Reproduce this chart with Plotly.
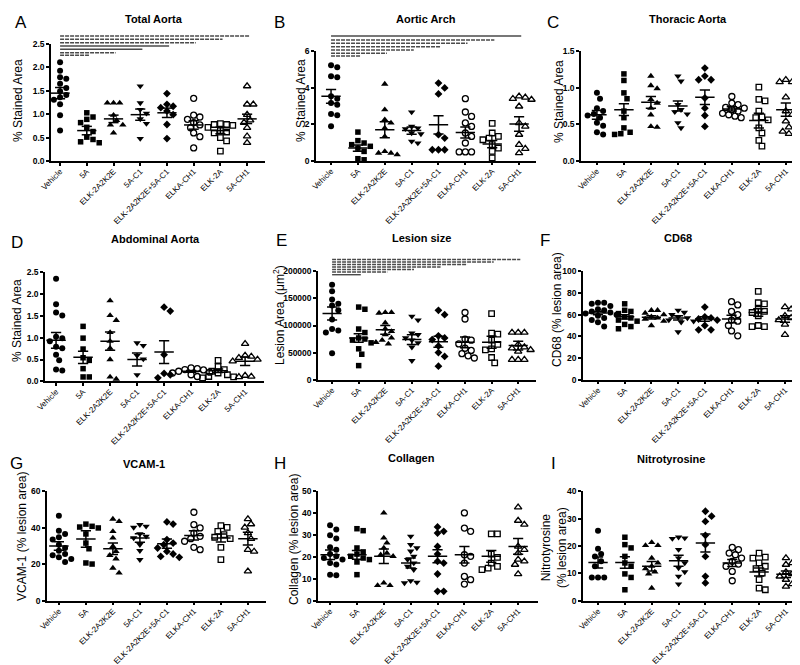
import numpy as np
import plotly.graph_objects as go

W, H = 800, 665
FONT = "Liberation Sans, Arial, sans-serif"

groups = ["Vehicle", "5A", "ELK-2A2K2E", "5A-C1", "ELK-2A2K2E+5A-C1", "ELKA-CH1", "ELK-2A", "5A-CH1"]
symbols = ["circle", "square", "triangle-up", "triangle-down", "diamond",
           "circle-open", "square-open", "triangle-up-open"]
sizes = [6, 5.5, 6.5, 6.5, 6, 6, 5.5, 6.5]

# ---------------- data ----------------
total_aorta = [
    [2.11, 1.93, 1.79, 1.76, 1.65, 1.56, 1.49, 1.41, 1.36, 1.31, 1.21, 0.98, 0.65],
    [1.03, 0.94, 0.89, 0.82, 0.72, 0.63, 0.51, 0.46, 0.41, 0.39],
    [1.24, 1.24, 1.24, 0.98, 0.87, 0.77, 0.77, 0.60],
    [1.60, 1.24, 1.10, 1.02, 0.90, 0.80, 0.48],
    [1.44, 1.21, 1.17, 1.14, 1.07, 0.99, 0.78, 0.48],
    [1.34, 0.98, 0.94, 0.89, 0.82, 0.77, 0.71, 0.60, 0.52, 0.28],
    [0.80, 0.78, 0.78, 0.76, 0.72, 0.65, 0.62, 0.60, 0.50, 0.43, 0.21],
    [1.60, 1.21, 1.21, 0.99, 0.87, 0.82, 0.71, 0.53, 0.39],
]
total_aorta_mean = [1.45, 0.65, 0.90, 0.99, 1.03, 0.77, 0.65, 0.90]
total_aorta_sem = [0.12, 0.09, 0.08, 0.12, 0.10, 0.09, 0.07, 0.10]

aortic_arch = [
    [5.23, 5.12, 4.63, 4.57, 3.53, 3.40, 3.16, 3.07, 2.56, 2.49, 1.89],
    [1.57, 1.10, 0.97, 0.88, 0.79, 0.69, 0.51, 0.11, 0.05],
    [4.20, 2.80, 2.25, 2.07, 1.79, 1.33, 0.51, 0.42, 0.42, 0.33],
    [2.67, 1.88, 1.79, 1.75, 1.52, 1.47, 1.06, 0.97],
    [4.26, 3.99, 3.66, 1.43, 1.24, 0.60, 0.60, 0.60],
    [3.40, 2.67, 2.43, 2.07, 1.88, 1.52, 1.33, 0.97, 0.48, 0.48, 0.48],
    [2.05, 1.52, 1.33, 1.24, 1.15, 0.88, 0.69, 0.51, 0.15],
    [3.53, 3.47, 3.40, 3.35, 2.98, 2.07, 1.88, 1.43, 0.88, 0.66, 0.42],
]
aortic_arch_mean = [3.53, 0.69, 1.70, 1.65, 1.97, 1.55, 0.91, 2.01]
aortic_arch_sem = [0.38, 0.17, 0.44, 0.20, 0.50, 0.30, 0.20, 0.40]

thoracic_aorta = [
    [0.93, 0.85, 0.72, 0.68, 0.64, 0.62, 0.59, 0.52, 0.48, 0.39, 0.36],
    [1.19, 1.10, 0.93, 0.85, 0.68, 0.59, 0.45, 0.39, 0.37, 0.36],
    [1.16, 1.03, 0.99, 0.84, 0.79, 0.72, 0.63, 0.47, 0.46],
    [1.16, 1.09, 0.77, 0.70, 0.67, 0.64, 0.52, 0.45],
    [1.27, 1.16, 1.11, 1.11, 0.86, 0.72, 0.62, 0.47],
    [0.88, 0.79, 0.77, 0.73, 0.72, 0.70, 0.68, 0.65, 0.63, 0.61, 0.59],
    [1.01, 0.84, 0.82, 0.68, 0.60, 0.59, 0.56, 0.45, 0.38, 0.28, 0.20],
    [1.11, 1.08, 1.08, 0.87, 0.68, 0.63, 0.54, 0.46, 0.40, 0.37],
]
thoracic_aorta_mean = [0.63, 0.70, 0.80, 0.75, 0.87, 0.71, 0.55, 0.70]
thoracic_aorta_sem = [0.06, 0.08, 0.08, 0.07, 0.10, 0.03, 0.10, 0.09]

abdominal_aorta = [
    [2.35, 1.77, 1.58, 1.51, 1.02, 0.99, 0.92, 0.79, 0.76, 0.61, 0.48, 0.27, 0.25],
    [1.26, 0.99, 0.74, 0.54, 0.48, 0.29, 0.10, 0.10],
    [1.85, 1.51, 1.40, 1.12, 0.92, 0.76, 0.50, 0.10, 0.05],
    [0.88, 0.82, 0.59, 0.51, 0.15],
    [1.70, 1.61, 0.61, 0.18, 0.15, 0.08],
    [0.31, 0.29, 0.27, 0.26, 0.23, 0.21, 0.19, 0.15, 0.11],
    [0.48, 0.34, 0.27, 0.23, 0.19, 0.15, 0.11, 0.10, 0.08],
    [0.86, 0.59, 0.57, 0.54, 0.50, 0.46, 0.13, 0.11, 0.10],
]
abdominal_aorta_mean = [0.94, 0.55, 0.92, 0.50, 0.67, 0.23, 0.24, 0.46]
abdominal_aorta_sem = [0.18, 0.14, 0.21, 0.15, 0.26, 0.02, 0.04, 0.10]

lesion_size = [
    [175000, 163000, 148000, 140000, 137000, 128000, 111000, 93500, 91000, 87000, 49000],
    [134000, 130000, 93500, 87000, 77000, 75000, 73000, 68000, 57000, 47000, 26000],
    [124000, 124000, 123000, 105000, 94000, 89000, 83000, 77000, 73000, 69000, 66000],
    [117000, 110000, 86000, 83000, 77000, 73000, 68000, 60000, 35000],
    [128000, 120000, 81000, 77000, 74000, 62000, 50000, 43000, 25000],
    [124000, 112000, 75000, 73000, 66000, 58000, 54000, 48000, 44000, 40000],
    [122000, 86000, 84000, 73000, 65000, 57000, 55000, 41000, 31000],
    [87000, 87000, 87000, 65000, 60000, 58000, 55000, 52000, 37000, 37000, 37000],
]
lesion_size_mean = [122000, 77000, 92000, 74000, 70000, 69000, 69000, 63000]
lesion_size_sem = [12000, 8000, 8000, 9000, 10000, 10000, 11000, 8000]

cd68 = [
    [71, 71, 70, 68, 65, 64, 63, 62, 61, 60, 59, 57, 55, 53, 49],
    [70, 64, 63, 61, 58, 57, 55, 54, 51, 49, 47],
    [64, 64, 61.5, 60, 58, 57, 56, 54, 50],
    [64, 62, 60, 58, 57, 55, 54, 53, 44],
    [67, 58, 57, 56, 55, 50, 46, 46],
    [72, 69, 63, 60, 55, 54, 50, 45, 40.5],
    [81.5, 71, 70, 65, 63, 62, 59, 50, 49, 49],
    [67, 65, 59, 57, 55, 54, 51, 41.5],
]
cd68_mean = [61.5, 58, 57.5, 57, 56, 56, 62, 56]
cd68_sem = [1.5, 2, 1.5, 2, 2, 3.5, 3.5, 3]

vcam1 = [
    [46.6, 38.4, 36.6, 34.8, 33.5, 30.7, 28.9, 27.4, 25.6, 24.9, 23.8, 22.9, 21.2],
    [42, 40.8, 40.4, 39.9, 36.6, 31.6, 28.5, 20.7, 20.1],
    [44.8, 43.5, 38, 34.4, 29.8, 27, 24.9, 23, 17.9, 15.2],
    [41.7, 40.8, 40.2, 36.6, 35.3, 34.4, 30.7, 27.4, 22.5],
    [43.2, 42, 33.5, 31.6, 30.7, 28.9, 27, 25.6, 24.3, 23.8],
    [48.5, 41.7, 39.9, 37.1, 35.3, 34, 32.6, 29.3, 28],
    [41.2, 40.2, 38, 36.2, 34.8, 34, 29.3, 22.5],
    [44.8, 42, 40.2, 37.1, 34, 28, 27, 16.1],
]
vcam1_mean = [30, 33.8, 28.5, 34.4, 31.3, 35.8, 34.4, 34]
vcam1_sem = [2.3, 4.5, 3.2, 2.3, 2.5, 2.5, 2.2, 3.5]

collagen = [
    [34.5, 32.5, 29.9, 28.4, 24.4, 23.3, 21.3, 20.3, 19.5, 18.8, 17.2, 16.5, 11.9, 11.6],
    [32.9, 32, 24.1, 22.3, 21.3, 20.3, 19.5, 18.8, 17.7, 11.9],
    [40.1, 28.7, 26.4, 24.1, 21.8, 21, 20.3, 8.1, 7, 7],
    [29.4, 25.6, 24.1, 22.6, 20.3, 18.8, 17.2, 15.7, 14.2, 9.1, 8.4, 8.1],
    [33.7, 31.7, 30.9, 24.8, 21.3, 18, 17.2, 12.2, 4.3, 4.3],
    [40.1, 33.2, 31.7, 21, 20.3, 17.2, 11.1, 9.6, 7.6],
    [30.5, 30.5, 21.3, 19.8, 17.2, 15.7, 14.9, 14.2],
    [42.7, 36.6, 34.8, 24.8, 23.3, 21.8, 18.8, 18, 16.5, 12.2],
]
collagen_mean = [21, 21, 20.3, 17.2, 20.3, 21, 20.3, 24.8]
collagen_sem = [2.2, 2, 3.3, 2.3, 3, 3.8, 2.7, 3.6]

nitrotyrosine = [
    [25.6, 19, 17.1, 16.2, 14.4, 12.6, 8.5, 8.5, 8.5],
    [23.2, 20.5, 19.3, 16.2, 13.8, 12.6, 9.8, 8.5, 4],
    [21.3, 20.2, 20.2, 15.6, 13.8, 12.6, 11.7, 10.5, 9.8, 4.6],
    [23.2, 22.9, 22.7, 18.7, 15.6, 13.8, 12, 10.5, 8.9, 6.1],
    [32.7, 30.9, 29, 23.9, 20.5, 16.2, 8.9, 6.5],
    [19.5, 18.7, 17.4, 16.8, 15.6, 14.4, 13.4, 12.6, 10.7, 7.3],
    [17.4, 15.9, 15.6, 13.8, 12.6, 11.7, 10.1, 7.7, 4.6, 4],
    [15.6, 13.8, 13.2, 10.5, 9.8, 8.9, 7.7, 6.1, 5.2],
]
nitrotyrosine_mean = [14, 14, 12.6, 14.6, 21.1, 13.8, 10.5, 9.7]
nitrotyrosine_sem = [2, 2.1, 1.7, 2, 3.3, 1.3, 1.5, 1.2]

# significance comparisons: Vehicle vs group k (k = 1..7)
sig_targets = [1, 2, 3, 4, 5, 6, 7]

# ---------------- layout configuration (pixels) ----------------
DASH = "4px,1px"
panels = [
    dict(letter="A", title="Total Aorta", ytitle="% Stained Area",
         vals=total_aorta, mean=total_aorta_mean, sem=total_aorta_sem,
         ymax=2.5, dtick=0.5, fmt=".1f", box=(43, 257, 36, 153), xr=(-0.34, 7.67),
         letter_xy=(13, 15), title_xy=(146, 11), ytitle_xy=(10, 93),
         sig_py=[47.3, 44.7, 41.3, 38.0, 34.7, 31.3, 28.0],
         sig_dash=[DASH, DASH, "solid", "solid", DASH, DASH, DASH]),
    dict(letter="B", title="Aortic Arch", ytitle="% Stained Area",
         vals=aortic_arch, mean=aortic_arch_mean, sem=aortic_arch_sem,
         ymax=6, dtick=2, fmt="d", box=(308, 528, 43.3, 152.7), xr=(-0.56, 7.63),
         letter_xy=(271, 15), title_xy=(418, 11), ytitle_xy=(293, 93),
         sig_py=[48.0, 45.3, 42.0, 38.7, 35.3, 32.0, 28.0],
         sig_dash=[DASH, DASH, DASH, DASH, DASH, DASH, "solid"]),
    dict(letter="C", title="Thoracic Aorta", ytitle="% Stained Area",
         vals=thoracic_aorta, mean=thoracic_aorta_mean, sem=thoracic_aorta_sem,
         ymax=1.5, dtick=0.5, fmt=".1f", box=(573, 797, 43.3, 152.7), xr=(-0.59, 7.71),
         letter_xy=(545, 15), title_xy=(680, 11), ytitle_xy=(551, 94)),
    dict(letter="D", title="Abdominal Aorta", ytitle="% Stained Area",
         vals=abdominal_aorta, mean=abdominal_aorta_mean, sem=abdominal_aorta_sem,
         ymax=2.5, dtick=0.5, fmt=".1f", box=(37, 256, 264.3, 373.3), xr=(-0.41, 7.70),
         letter_xy=(9, 235), title_xy=(147, 231), ytitle_xy=(9, 313)),
    dict(letter="E", title="Lesion size", ytitle="Lesion Area  (μm<sup>2</sup>)",
         vals=lesion_size, mean=lesion_size_mean, sem=lesion_size_sem,
         ymax=200000, dtick=50000, fmt="d", box=(310, 528, 263.3, 371.7), xr=(-0.53, 7.67),
         letter_xy=(273, 233), title_xy=(413, 230), ytitle_xy=(271, 307),
         sig_py=[266.7, 264.0, 261.5, 259.0, 256.5, 254.0, 251.5],
         sig_dash=["solid", DASH, DASH, DASH, DASH, DASH, DASH]),
    dict(letter="F", title="CD68", ytitle="CD68 (% lesion area)",
         vals=cd68, mean=cd68_mean, sem=cd68_sem,
         ymax=100, dtick=20, fmt="d", box=(575, 793, 263.3, 371.7), xr=(-0.56, 7.60),
         letter_xy=(537, 233), title_xy=(670, 230), ytitle_xy=(549, 302)),
    dict(letter="G", title="VCAM-1", ytitle="VCAM-1 (% lesion area)",
         vals=vcam1, mean=vcam1_mean, sem=vcam1_sem,
         ymax=60, dtick=20, fmt="d", box=(39, 258, 483.3, 592.7), xr=(-0.44, 7.67),
         letter_xy=(8, 455), title_xy=(136, 456), ytitle_xy=(14, 529)),
    dict(letter="H", title="Collagen", ytitle="Collagen (% lesion area)",
         vals=collagen, mean=collagen_mean, sem=collagen_sem,
         ymax=50, dtick=10, fmt="d", box=(310, 530, 483.3, 592.7), xr=(-0.45, 7.74),
         letter_xy=(272, 455), title_xy=(403, 450), ytitle_xy=(286, 532)),
    dict(letter="I", title="Nitrotyrosine", ytitle="Nitrotyrosine<br>(% lesion area)",
         vals=nitrotyrosine, mean=nitrotyrosine_mean, sem=nitrotyrosine_sem,
         ymax=40, dtick=10, fmt="d", box=(575, 797, 483.3, 592.7), xr=(-0.56, 7.71),
         letter_xy=(545, 455), title_xy=(663, 451), ytitle_xy=(546, 540)),
]


def swarm_offsets(values, px_per_y, px_per_x, diam=6.2):
    """Deterministic beeswarm: place each point nearest the centre without overlap."""
    order = np.argsort(-np.asarray(values, dtype=float), kind="stable")
    placed = []
    offs = np.zeros(len(values))
    steps = [0]
    for k in range(1, 12):
        steps += [k * 0.5, -k * 0.5]
    for idx in order:
        ypx = values[idx] * px_per_y
        for s in steps:
            xpx = s * diam
            if all((xpx - px) ** 2 + (ypx - py) ** 2 >= (diam * 0.95) ** 2 for px, py in placed):
                break
        placed.append((xpx, ypx))
        offs[idx] = xpx / px_per_x
    return offs


fig = go.Figure()
annotations = []
shapes = []
layout_axes = {}

for p_i, p in enumerate(panels):
    n = "" if p_i == 0 else str(p_i + 1)
    xa, ya = "x" + n, "y" + n
    l, r, t, b = p["box"]
    r0, r1 = p["xr"]
    px_per_x = (r - l) / (r1 - r0)
    px_per_y = (b - t) / p["ymax"]

    for g in range(8):
        vals = p["vals"][g]
        offs = swarm_offsets(vals, px_per_y, px_per_x)
        open_m = symbols[g].endswith("open")
        fig.add_trace(go.Scatter(
            x=g + offs, y=vals, mode="markers", xaxis=xa, yaxis=ya,
            showlegend=False, hoverinfo="skip", cliponaxis=False,
            marker=dict(symbol=symbols[g], size=sizes[g], color="black",
                        line=dict(color="black", width=1.3 if open_m else 0))))

    # mean +/- SEM
    lx, ly = [], []
    for g in range(8):
        m, s = p["mean"][g], p["sem"][g]
        lx += [g - 0.36, g + 0.36, None, g, g, None, g - 0.19, g + 0.19, None, g - 0.19, g + 0.19, None]
        ly += [m, m, None, m - s, m + s, None, m + s, m + s, None, m - s, m - s, None]
    fig.add_trace(go.Scatter(x=lx, y=ly, mode="lines", xaxis=xa, yaxis=ya,
                             showlegend=False, hoverinfo="skip",
                             line=dict(color="black", width=1.5)))

    axis_common = dict(showline=True, linecolor="black", linewidth=1.5, ticks="outside",
                       ticklen=3, tickwidth=1.5, tickcolor="black", showgrid=False,
                       zeroline=False, automargin=False)
    layout_axes["xaxis" + n] = dict(axis_common, domain=[l / W, r / W], range=[r0, r1],
                                    tickmode="array", tickvals=list(range(8)), ticktext=groups,
                                    tickangle=-45, anchor=ya, fixedrange=True, ticklabelstandoff=-2,
                                    tickfont=dict(family=FONT, size=8, color="black"))
    layout_axes["yaxis" + n] = dict(axis_common, domain=[1 - b / H, 1 - t / H],
                                    range=[0, p["ymax"]], dtick=p["dtick"], tick0=0,
                                    tickformat=p["fmt"], anchor=xa, fixedrange=True,
                                    tickfont=dict(family=FONT, size=8.5, color="black", weight="bold"))

    # text
    annotations.append(dict(text=p["letter"], x=p["letter_xy"][0] / W, y=1 - p["letter_xy"][1] / H,
                            xref="paper", yref="paper", showarrow=False, xanchor="center", yanchor="middle",
                            font=dict(family=FONT, size=17, color="black")))
    annotations.append(dict(text="<b>" + p["title"] + "</b>", x=p["title_xy"][0] / W, y=1 - p["title_xy"][1] / H,
                            xref="paper", yref="paper", showarrow=False, xanchor="center", yanchor="middle",
                            font=dict(family=FONT, size=11, color="black")))
    annotations.append(dict(text=p["ytitle"], x=p["ytitle_xy"][0] / W, y=1 - p["ytitle_xy"][1] / H,
                            xref="paper", yref="paper", showarrow=False, xanchor="center", yanchor="middle",
                            textangle=-90, font=dict(family=FONT, size=12, color="black")))

    # significance lines
    if "sig_py" in p:
        for k, py, dsh in zip(sig_targets, p["sig_py"], p["sig_dash"]):
            yf = (b - py) / (b - t)
            x0 = (0 - r0) / (r1 - r0)
            x1 = (k + 0.08 - r0) / (r1 - r0)
            shapes.append(dict(type="line", xref=xa + " domain", yref=ya + " domain",
                               x0=x0, x1=x1, y0=yf, y1=yf,
                               line=dict(color="#4a4a4a", width=1.4, dash=dsh)))

fig.update_layout(width=W, height=H, margin=dict(l=0, r=0, t=0, b=0),
                  template="none",
                  paper_bgcolor="white", plot_bgcolor="white",
                  font=dict(family=FONT, color="black"),
                  annotations=annotations, shapes=shapes, **layout_axes)

fig.write_html("out.html")
